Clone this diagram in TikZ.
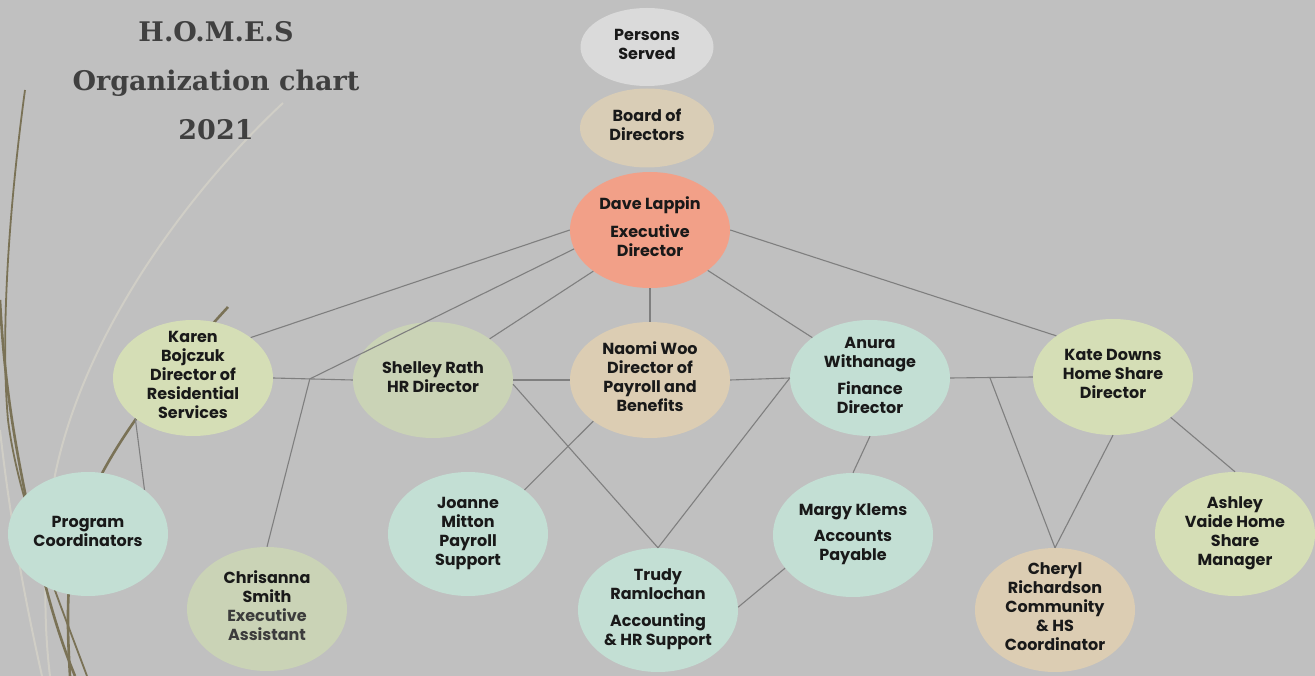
\documentclass[tikz,border=0pt]{standalone}
\usepackage{fontspec}
\setmainfont{Poppins}
\newfontfamily\titlefont{DejaVu Serif}
\usetikzlibrary{shapes.geometric,calc}
\definecolor{bgc}{HTML}{C0C0C0}
\definecolor{persc}{HTML}{DADADA}
\definecolor{boardc}{HTML}{D9CDB6}
\definecolor{davec}{HTML}{F2A088}
\definecolor{yelc}{HTML}{D5DEB6}
\definecolor{sagec}{HTML}{CAD3B6}
\definecolor{beigec}{HTML}{DCCDB3}
\definecolor{tealc}{HTML}{C3DFD4}
\definecolor{linec}{HTML}{7F7F7F}
\definecolor{olivec}{HTML}{7A7256}
\definecolor{wispc}{HTML}{D0CEC6}
\definecolor{titlec}{HTML}{404040}
\definecolor{subc}{HTML}{3C3C3C}
\newcommand{\btext}[1]{\makebox[0pt]{\raisebox{-6.5pt}{\smash{\begin{tabular}{@{}c@{}}#1\end{tabular}}}}}
\tikzset{
  bub/.style={ellipse, inner sep=0pt, minimum width=160pt, minimum height=116pt,
    text=black!90, font=\fontsize{16}{19}\selectfont\bfseries},
  bublow/.style={bub, minimum height=124pt},
  conn/.style={draw=linec, line width=1.1pt},
  wisp/.style={draw=wispc, line width=2pt},
  olive/.style={draw=olivec, line width=2.2pt},
  ttl/.style={text=titlec, font=\titlefont\bfseries\fontsize{27}{30}\selectfont, anchor=base, inner sep=0pt}
}
\begin{document}
\begin{tikzpicture}[x=1pt,y=-1pt]
\useasboundingbox (0,0) rectangle (1315,676);
\fill[bgc] (0,0) rectangle (1315,676);

% decorative wisps
\draw[wisp] (283,103) .. controls (190,190) and (85,330) .. (55,475) .. controls (45,540) and (42,610) .. (50,676);
\draw[wisp] (0,430) .. controls (10,520) and (25,600) .. (42,676);
\draw[olive, line width=1.8pt] (25,90) .. controls (10,200) and (0,330) .. (8,420) .. controls (18,500) and (55,590) .. (87,676);
\draw[olive, line width=2.6pt] (0,300) .. controls (5,400) and (20,470) .. (35,540) .. controls (45,590) and (60,640) .. (75,676);
\draw[olive, line width=2.6pt] (228,307) .. controls (170,370) and (95,460) .. (75,540) .. controls (65,590) and (68,640) .. (70,676);

% title
\node[ttl] (t1) at (216,42) {H.O.M.E.S};
\node[ttl] (t2) at (216,91) {Organization chart};
\node[ttl] (t3) at (216,140) {2021};

% nodes
\node[bub, fill=persc, minimum width=133pt, minimum height=78pt] (pers) at (647,47) {\btext{Persons\\Served}};
\node[bub, fill=boardc, minimum width=134pt, minimum height=79pt] (board) at (647,128) {\btext{Board of\\Directors}};
\node[bub, fill=davec] (dave) at (650,230) {\btext{Dave Lappin\\[9pt]Executive\\Director}};
\node[bub, fill=yelc] (karen) at (193,378) {\btext{Karen\\Bojczuk\\Director of\\Residential\\Services}};
\node[bub, fill=sagec] (shelley) at (433,380) {\btext{Shelley Rath\\HR Director}};
\node[bub, fill=beigec] (naomi) at (650,380) {\btext{Naomi Woo\\Director of\\Payroll and\\Benefits}};
\node[bub, fill=tealc] (anura) at (870,378) {\btext{Anura\\Withanage\\[8pt]Finance\\Director}};
\node[bub, fill=yelc] (kate) at (1113,377) {\btext{Kate Downs\\Home Share\\Director}};
\node[bublow, fill=tealc] (prog) at (88,534) {\btext{Program\\Coordinators}};
\node[bublow, fill=sagec] (chris) at (267,609) {\btext{Chrisanna\\Smith\\\color{subc}Executive\\\color{subc}Assistant}};
\node[bublow, fill=tealc] (joanne) at (468,534) {\btext{Joanne\\Mitton\\Payroll\\Support}};
\node[bublow, fill=tealc] (trudy) at (658,610) {\btext{Trudy\\Ramlochan\\[8pt]Accounting\\\& HR Support}};
\node[bublow, fill=tealc] (margy) at (853,535) {\btext{Margy Klems\\[7pt]Accounts\\Payable}};
\node[bublow, fill=beigec] (cheryl) at (1055,610) {\btext{Cheryl\\Richardson\\Community\\\& HS\\Coordinator}};
\node[bublow, fill=yelc] (ashley) at (1235,534) {\btext{Ashley\\Vaide Home\\Share\\Manager}};

% junctions
\coordinate (j1) at ($(karen.east)!0.46!(shelley.west)$);
\coordinate (j3) at ($(anura.east)!0.48!(kate.west)$);

% connectors
\draw[conn] (dave.180) -- (karen.35);
\draw[conn] (dave.194) -- (j1);
\draw[conn] (j1) -- (chris.north);
\draw[conn] (karen.east) -- (shelley.west);
\draw[conn] (dave.216) -- (shelley.36);
\draw[conn] (dave.south) -- (naomi.north);
\draw[conn] (dave.-35) -- (anura.145);
\draw[conn] (dave.0) -- (kate.144);
\draw[conn] (shelley.east) -- (naomi.west);
\draw[conn] (shelley.-3) -- (trudy.north);
\draw[conn] (naomi.216) -- (joanne.38);
\draw[conn] (naomi.east) -- (anura.west);
\draw[conn] (anura.west) -- (trudy.north);
\draw[conn] (anura.south) -- (margy.north);
\draw[conn] (margy.206) -- (trudy.2);
\draw[conn] (anura.east) -- (kate.west);
\draw[conn] (j3) -- (cheryl.north);
\draw[conn] (kate.south) -- (cheryl.north);
\draw[conn] (kate.-35) -- (ashley.north);
\draw[conn] (karen.215) -- (prog.38);
\end{tikzpicture}
\end{document}
